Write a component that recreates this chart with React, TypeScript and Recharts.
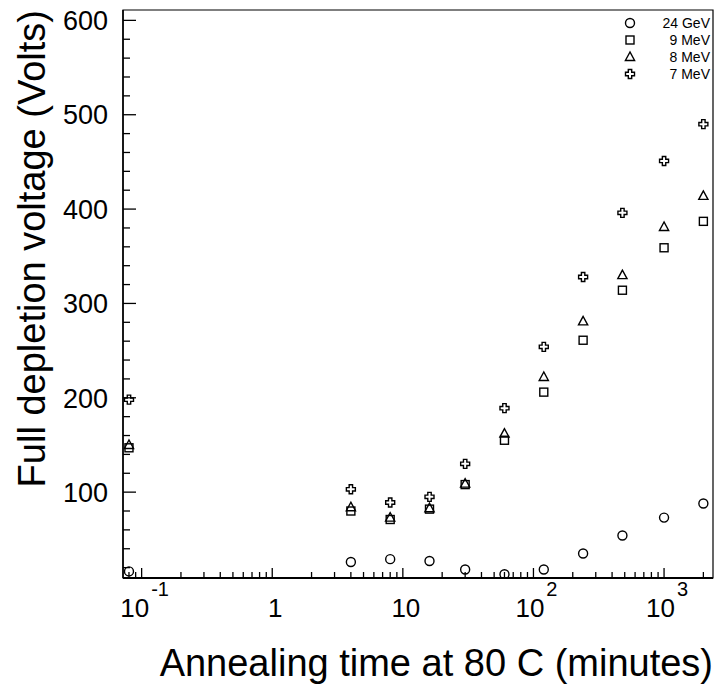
import React from "react";
import { ScatterChart, Scatter, XAxis, YAxis, ReferenceArea } from "recharts";

// annealing time in minutes (first point is t=0, drawn at the left edge)
const times = [0.08, 4, 8, 16, 30, 60, 120, 240, 480, 1000, 2000];

// full depletion voltage (V)
const gev24 = [16, 26, 29, 27, 18, 13, 18, 35, 54, 73, 88];
const mev9 = [147, 80, 71, 82, 108, 155, 206, 261, 314, 359, 387];
const mev8 = [150, 84, 73, 83, 109, 162, 222, 281, 330, 381, 414];
const mev7 = [198, 103, 89, 95, 130, 189, 254, 328, 396, 451, 490];

const xTicks = [
  0.08, 0.09, 0.1, 0.2, 0.3, 0.4, 0.5, 0.6, 0.7, 0.8, 0.9,
  1, 2, 3, 4, 5, 6, 7, 8, 9,
  10, 20, 30, 40, 50, 60, 70, 80, 90,
  100, 200, 300, 400, 500, 600, 700, 800, 900,
  1000, 2000,
];
const xLabels: Record<string, string[]> = {
  "0.1": ["10", "-1"],
  "1": ["1"],
  "10": ["10"],
  "100": ["10", "2"],
  "1000": ["10", "3"],
};

const yTicks = [
  20, 40, 60, 80, 100, 120, 140, 160, 180, 200, 220, 240, 260, 280, 300,
  320, 340, 360, 380, 400, 420, 440, 460, 480, 500, 520, 540, 560, 580, 600,
];
const yLabels = [100, 200, 300, 400, 500, 600];

const xDomain = [0.072, 2370];
const yDomain = [9, 611];

const FONT = "'Liberation Sans', Arial, Helvetica, sans-serif";

type MarkerKind = "circle" | "square" | "triangle" | "cross";

const series: { name: string; values: number[]; marker: MarkerKind }[] = [
  { name: "24 GeV", values: gev24, marker: "circle" },
  { name: "9 MeV", values: mev9, marker: "square" },
  { name: "8 MeV", values: mev8, marker: "triangle" },
  { name: "7 MeV", values: mev7, marker: "cross" },
];

function Marker({ kind, cx, cy }: { kind: MarkerKind; cx: number; cy: number }) {
  const common = { fill: "none", stroke: "#000", strokeWidth: 1.4 };
  if (kind === "circle") return <circle cx={cx} cy={cy} r={4.5} {...common} />;
  if (kind === "square") return <rect x={cx - 4} y={cy - 4} width={8} height={8} {...common} />;
  if (kind === "triangle")
    return <polygon points={`${cx},${cy - 5} ${cx - 4.6},${cy + 3.5} ${cx + 4.6},${cy + 3.5}`} {...common} />;
  const a = 1.7;
  const b = 4.5;
  const d = `M${cx - a},${cy - b}H${cx + a}V${cy - a}H${cx + b}V${cy + a}H${cx + a}V${cy + b}H${cx - a}V${cy + a}H${cx - b}V${cy - a}H${cx - a}Z`;
  return <path d={d} {...common} />;
}

const XTick = (props: any) => {
  const { x, y, payload } = props;
  const lab = xLabels[String(payload.value)];
  return (
    <g>
      <line x1={x} x2={x} y1={y} y2={y - (lab ? 10 : 6)} stroke="#000" strokeWidth={1.3} />
      {lab && (
        <text x={x + 3} y={y + 39} textAnchor="middle" fontSize={26} fontFamily={FONT} fill="#000">
          <tspan>{lab[0]}</tspan>
          {lab[1] && (
            <tspan fontSize={20} dx={2} dy={-21}>
              {lab[1]}
            </tspan>
          )}
        </text>
      )}
    </g>
  );
};

const YTick = (props: any) => {
  const { x, y, payload } = props;
  const major = yLabels.includes(payload.value);
  return (
    <g>
      <line x1={x} x2={x + (major ? 13 : 7)} y1={y} y2={y} stroke="#000" strokeWidth={1.3} />
      {major && (
        <text x={x - 15} y={y} dy="0.36em" textAnchor="end" fontSize={27} fontFamily={FONT} fill="#000">
          {payload.value}
        </text>
      )}
    </g>
  );
};

const XTitle = () => (
  <text x={713} y={676} textAnchor="end" fontSize={38} fontFamily={FONT} fill="#000">
    Annealing time at 80 C (minutes)
  </text>
);

const YTitle = () => (
  <text x={45} y={10} transform="rotate(-90 45 10)" textAnchor="end" fontSize={38} fontFamily={FONT} fill="#000">
    Full depletion voltage (Volts)
  </text>
);

export default function App() {
  return (
    <div style={{ position: "absolute", left: 0, top: 0, width: 716, height: 687, background: "#fff" }}>
      <ScatterChart width={716} height={687} margin={{ top: 10, right: 3, bottom: 0, left: 0 }}>
        <XAxis
          type="number"
          dataKey="t"
          scale="log"
          domain={xDomain}
          allowDataOverflow
          ticks={xTicks}
          interval={0}
          tickSize={0}
          tickMargin={0}
          tick={XTick}
          height={109}
          axisLine={{ stroke: "#000", strokeWidth: 2 }}
          label={XTitle}
        />
        <YAxis
          type="number"
          dataKey="v"
          domain={yDomain}
          allowDataOverflow
          ticks={yTicks}
          interval={0}
          tickSize={0}
          tickMargin={0}
          tick={YTick}
          width={123}
          axisLine={{ stroke: "#000", strokeWidth: 1.5 }}
          label={YTitle}
        />
        <ReferenceArea
          x1={xDomain[0]}
          x2={xDomain[1]}
          y1={yDomain[0]}
          y2={yDomain[1]}
          fill="none"
          stroke="#000"
          strokeWidth={1.2}
          ifOverflow="visible"
        />
        {series.map((s) => (
          <Scatter
            key={s.name}
            name={s.name}
            data={times.map((t, i) => ({ t, v: s.values[i] }))}
            isAnimationActive={false}
            shape={(p: any) => <Marker kind={s.marker} cx={p.cx} cy={p.cy} />}
          />
        ))}
      </ScatterChart>
      <svg
        width={110}
        height={80}
        style={{ position: "absolute", left: 606, top: 12 }}
      >
        {series.map((s, i) => (
          <g key={s.name}>
            <Marker kind={s.marker} cx={24} cy={11 + i * 17} />
            <text x={104} y={16 + i * 17} textAnchor="end" fontSize={14} fontFamily={FONT} fill="#000">
              {s.name}
            </text>
          </g>
        ))}
      </svg>
    </div>
  );
}
